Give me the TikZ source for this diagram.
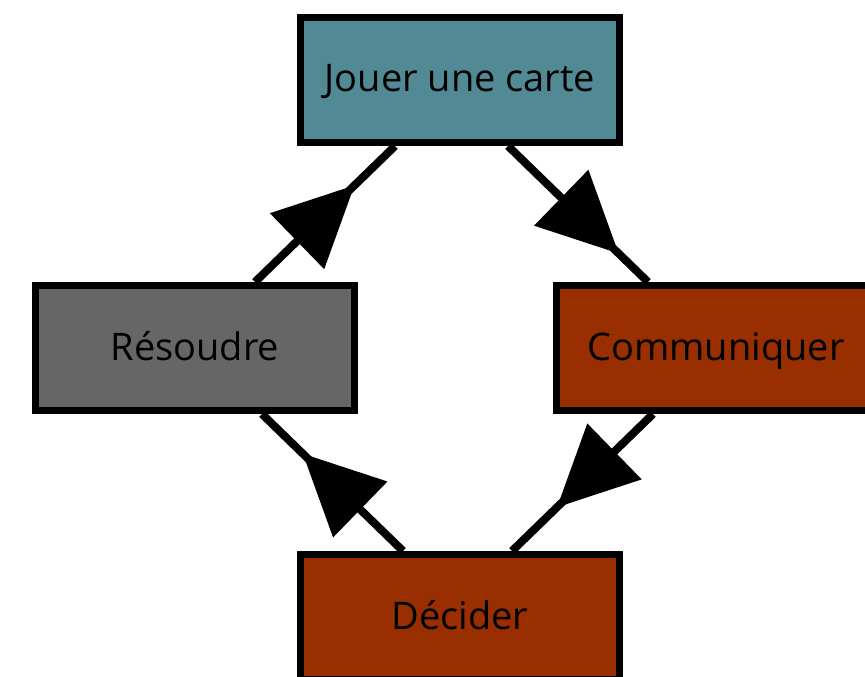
\documentclass[tikz,border=0pt]{standalone}
\usepackage{fontspec}
\setmainfont{Open Sans}
\usetikzlibrary{calc,decorations.markings}
\definecolor{teal}{RGB}{81,138,149}
\definecolor{rust}{RGB}{153,46,0}
\definecolor{slate}{RGB}{102,102,102}
\tikzset{
  stepbox/.style={draw=black, line width=7pt, minimum width=319pt, minimum height=125pt,
    inner sep=0pt, text height=24pt, text depth=0pt,
    font=\fontsize{38}{44}\selectfont, text=black},
  flow/.style={line width=8pt, postaction={decorate},
    decoration={markings, mark=at position #1 with {\fill (0,0) -- (-80,39) -- (-80,-39) -- cycle;}}}
}
\begin{document}
\begin{tikzpicture}[x=1pt, y=-1pt]
  \useasboundingbox (0,0) rectangle (865,677);
  \begin{scope}
    \clip (0,0) rectangle (865,677);
    \node[stepbox, fill=teal]  (jouer) at (460,80)  {Jouer une carte};
    \node[stepbox, fill=slate] (res)   at (195,348) {Résoudre};
    \node[stepbox, fill=rust]  (com)   at (716,348) {Communiquer};
    \node[stepbox, fill=rust]  (dec)   at (460,617) {Décider};
    \draw[flow=0.71] ($(res.north)+(60,0)$) -- ($(jouer.south)+(-65,0)$);
    \draw[flow=0.79] ($(jouer.south)+(48,0)$) -- ($(com.north)+(-68,0)$);
    \draw[flow=0.68] ($(com.south)+(-63,0)$) -- ($(dec.north)+(52,0)$);
    \draw[flow=0.71] ($(dec.north)+(-57,0)$) -- ($(res.south)+(67,0)$);
  \end{scope}
\end{tikzpicture}
\end{document}
